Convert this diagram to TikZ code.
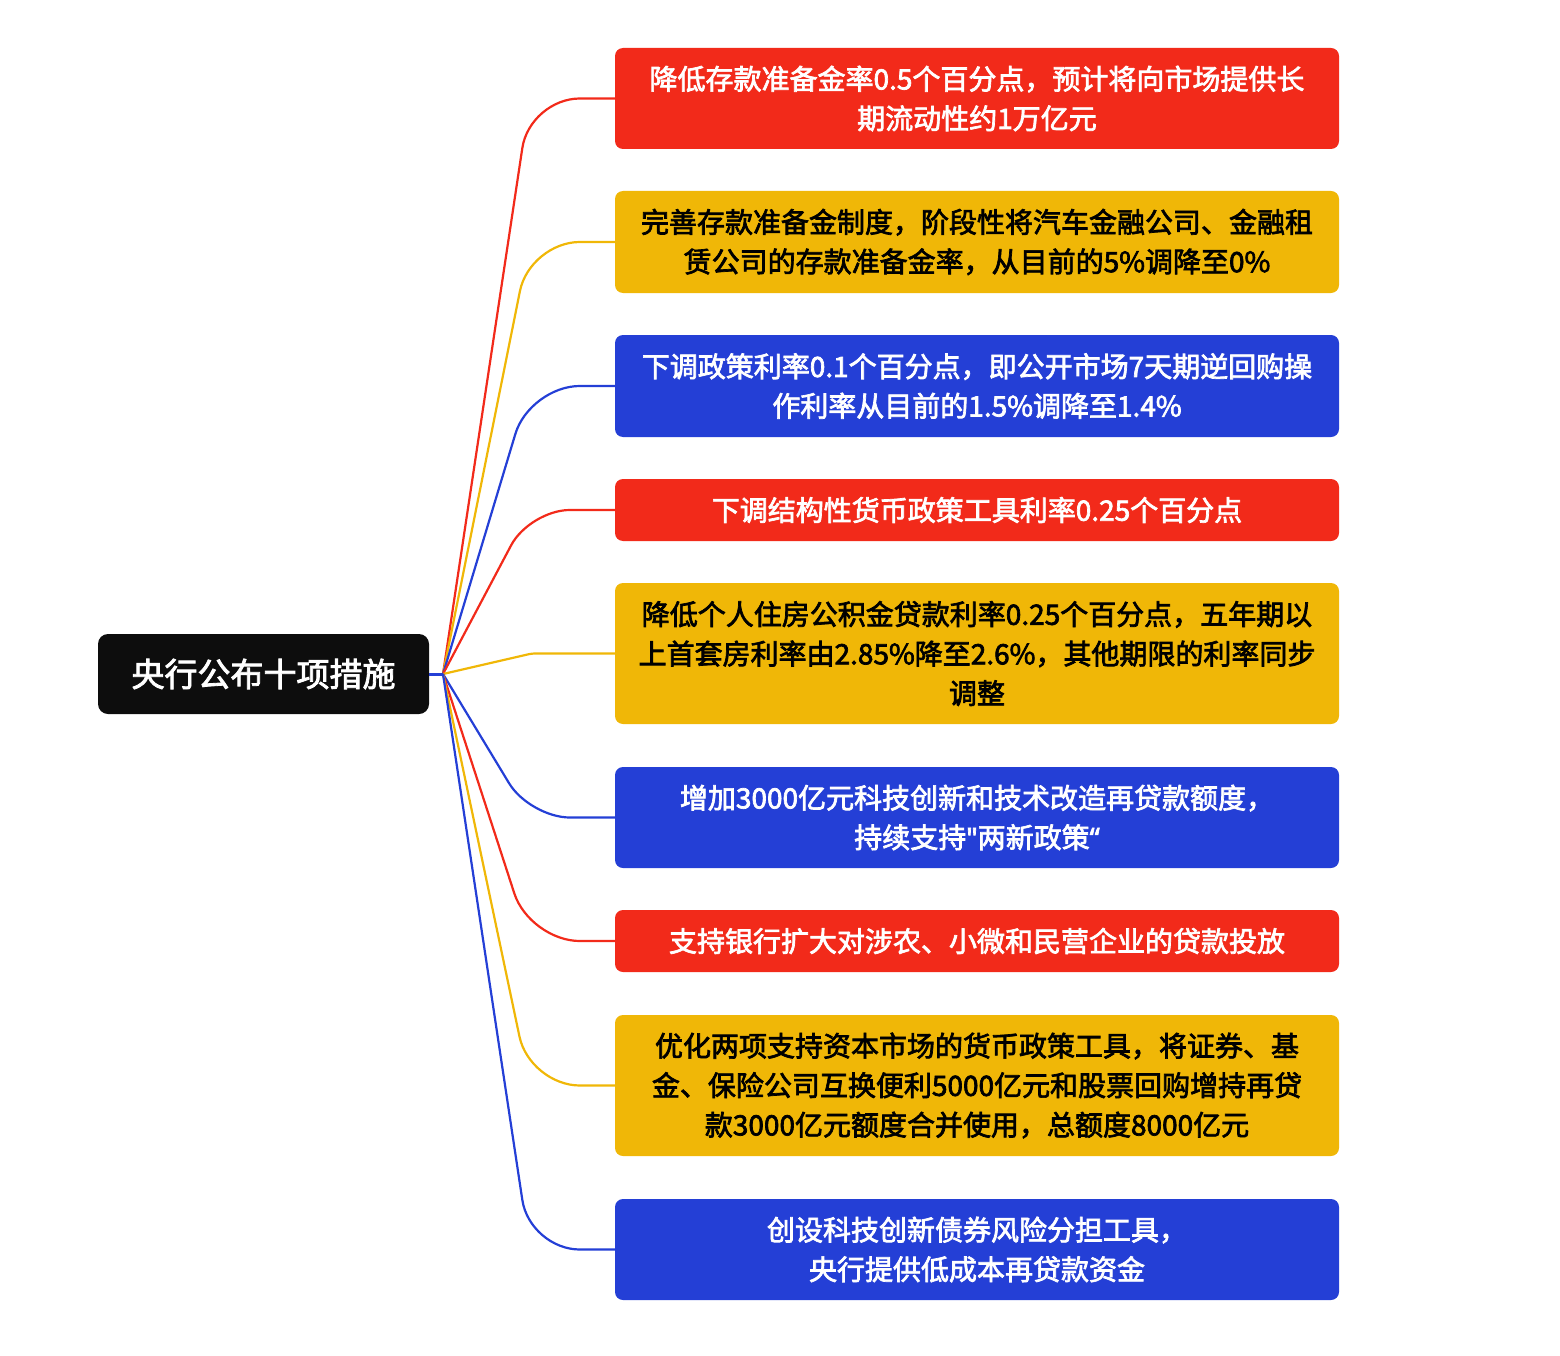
\documentclass[tikz,border=0pt]{standalone}
\usepackage{fontspec}
\newfontfamily\cjk{Noto Sans CJK SC}[FakeBold=2.5]
\newfontfamily\lat{Noto Sans}[FakeBold=2.5]
\definecolor{cred}{HTML}{F22A1A}
\definecolor{cyel}{HTML}{F0B707}
\definecolor{cblu}{HTML}{243FD6}
\definecolor{croot}{HTML}{0D0D0D}
\tikzset{
  leaf/.style={rounded corners=8pt, minimum width=724pt, inner sep=0pt, align=center,
    font={\cjk\fontsize{28}{39.5}\selectfont}},
  redbox/.style={leaf, fill=cred, text=white},
  yelbox/.style={leaf, fill=cyel, text=black},
  blubox/.style={leaf, fill=cblu, text=white},
  link/.style={line width=2.2pt, rounded corners=50pt},
}
\begin{document}
\begin{tikzpicture}[x=1pt,y=-1pt]
\useasboundingbox (0,0) rectangle (1560,1356);
\node[fill=croot, rounded corners=10pt, minimum width=331pt, minimum height=80pt, inner sep=0pt,
  text=white, font={\cjk\fontsize{33}{40}\selectfont}] (root) at (263.5,674) {央行公布十项措施};
\coordinate (fan) at (443,674);

\node[redbox, minimum height=101pt] (b1) at (977,98.5) {降低存款准备金率0.5个百分点，预计将向市场提供长\\期流动性约1万亿元};
\node[yelbox, minimum height=102pt] (b2) at (977,242) {完善存款准备金制度，阶段性将汽车金融公司、金融租\\赁公司的存款准备金率，从目前的5\%调降至0\%};
\node[blubox, minimum height=102pt] (b3) at (977,386) {下调政策利率0.1个百分点，即公开市场7天期逆回购操\\作利率从目前的1.5\%调降至1.4\%};
\node[redbox, minimum height=62pt] (b4) at (977,510) {下调结构性货币政策工具利率0.25个百分点};
\node[yelbox, minimum height=141pt] (b5) at (977,653.5) {降低个人住房公积金贷款利率0.25个百分点，五年期以\\上首套房利率由2.85\%降至2.6\%，其他期限的利率同步\\调整};
\node[blubox, minimum height=101pt] (b6) at (977,817.5) {增加3000亿元科技创新和技术改造再贷款额度，\\持续支持{\lat"}两新政策{\lat“}};
\node[redbox, minimum height=62pt] (b7) at (977,941) {支持银行扩大对涉农、小微和民营企业的贷款投放};
\node[yelbox, minimum height=141pt] (b8) at (977,1085.5) {优化两项支持资本市场的货币政策工具，将证券、基\\金、保险公司互换便利5000亿元和股票回购增持再贷\\款3000亿元额度合并使用，总额度8000亿元};
\node[blubox, minimum height=101pt] (b9) at (977,1249.5) {创设科技创新债券风险分担工具，\\央行提供低成本再贷款资金};

\draw[link, cred] (fan) -- ([xshift=-85pt]b1.west) -- (b1.west);
\draw[link, cyel] (fan) -- ([xshift=-85pt]b2.west) -- (b2.west);
\draw[link, cblu] (fan) -- ([xshift=-85pt]b3.west) -- (b3.west);
\draw[link, cred, rounded corners=40pt] (fan) -- ([xshift=-85pt]b4.west) -- (b4.west);
\draw[link, cyel, rounded corners=3pt] (fan) -- ([xshift=-83pt]b5.west) -- (b5.west);
\draw[link, cblu, rounded corners=40pt] (fan) -- ([xshift=-85pt]b6.west) -- (b6.west);
\draw[link, cred] (fan) -- ([xshift=-85pt]b7.west) -- (b7.west);
\draw[link, cyel] (fan) -- ([xshift=-85pt]b8.west) -- (b8.west);
\draw[link, cblu] (fan) -- ([xshift=-85pt]b9.west) -- (b9.west);
\draw[cblu, line width=3pt] (root.east) -- (fan);
\end{tikzpicture}
\end{document}
